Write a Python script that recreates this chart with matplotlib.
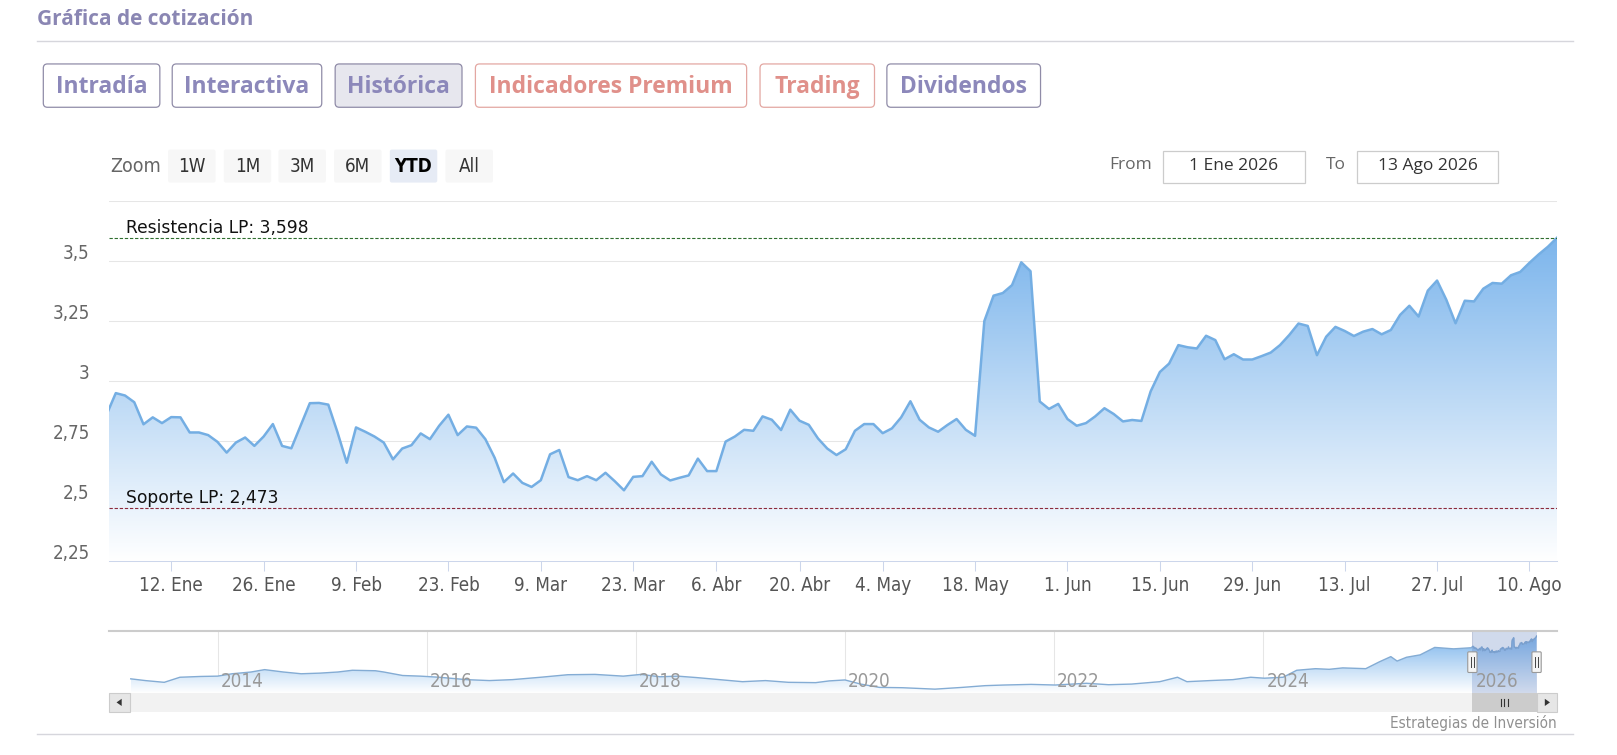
import numpy as np
import pandas as pd
import matplotlib
matplotlib.use('Agg')
import matplotlib.pyplot as plt
from matplotlib.patches import FancyBboxPatch, Rectangle, Polygon
from matplotlib.colors import to_rgb

# ---- data ----
prev_close = 2.86  # last close of 2025, only the stub into the left edge shows
prices = [
    2.950, 2.940, 2.912, 2.820, 2.849, 2.825, 2.850, 2.849, 2.786, 2.786,
    2.775, 2.747, 2.702, 2.744, 2.765, 2.730, 2.769, 2.821, 2.730, 2.720,
    2.814, 2.908, 2.909, 2.902, 2.786, 2.660, 2.807, 2.789, 2.769, 2.744,
    2.674, 2.719, 2.733, 2.782, 2.758, 2.814, 2.860, 2.775, 2.811, 2.806,
    2.758, 2.681, 2.579, 2.615, 2.576, 2.559, 2.587, 2.695, 2.713, 2.600,
    2.587, 2.604, 2.587, 2.618, 2.583, 2.545, 2.601, 2.604, 2.664, 2.611,
    2.586, 2.597, 2.607, 2.677, 2.625, 2.625, 2.748, 2.769, 2.797, 2.793,
    2.853, 2.839, 2.796, 2.881, 2.835, 2.818, 2.761, 2.719, 2.692, 2.716,
    2.793, 2.821, 2.821, 2.783, 2.803, 2.849, 2.916, 2.839, 2.807, 2.789,
    2.817, 2.842, 2.797, 2.772, 3.250, 3.356, 3.367, 3.400, 3.495, 3.458,
    2.915, 2.884, 2.905, 2.842, 2.814, 2.825, 2.853, 2.887, 2.863, 2.832,
    2.838, 2.834, 2.957, 3.038, 3.073, 3.150, 3.141, 3.136, 3.189, 3.171,
    3.091, 3.112, 3.090, 3.090, 3.104, 3.119, 3.150, 3.192, 3.240, 3.230,
    3.108, 3.185, 3.226, 3.209, 3.188, 3.206, 3.217, 3.195, 3.213, 3.276,
    3.314, 3.269, 3.377, 3.419, 3.339, 3.241, 3.335, 3.332, 3.385, 3.409,
    3.406, 3.441, 3.455, 3.493, 3.528, 3.560, 3.598,
]
holidays = ['2026-04-03', '2026-04-06', '2026-05-01']
tick_dates = ['2026-01-12', '2026-01-26', '2026-02-09', '2026-02-23', '2026-03-09',
              '2026-03-23', '2026-04-06', '2026-04-20', '2026-05-04', '2026-05-18',
              '2026-06-01', '2026-06-15', '2026-06-29', '2026-07-13', '2026-07-27',
              '2026-08-10']
tick_labels = ['12. Ene', '26. Ene', '9. Feb', '23. Feb', '9. Mar', '23. Mar', '6. Abr',
               '20. Abr', '4. May', '18. May', '1. Jun', '15. Jun', '29. Jun', '13. Jul',
               '27. Jul', '10. Ago']
y_ticks = [2.25, 2.5, 2.75, 3.0, 3.25, 3.5, 3.75]
y_labels = ['2,25', '2,5', '2,75', '3', '3,25', '3,5', '']
resistance = 3.598
support = 2.473

# navigator history (before 2026), rough samples
nav_years = [2013.17, 2013.31, 2013.49, 2013.64, 2013.84, 2014.00, 2014.14, 2014.32, 2014.45,
             2014.63, 2014.80, 2014.98, 2015.15, 2015.29, 2015.51, 2015.59, 2015.77, 2015.94,
             2016.12, 2016.38, 2016.60, 2016.82, 2017.09, 2017.35, 2017.61, 2017.88, 2018.05,
             2018.23, 2018.40, 2018.58, 2018.80, 2019.02, 2019.24, 2019.46, 2019.72, 2019.85,
             2020.00, 2020.15, 2020.33, 2020.55, 2020.86, 2021.12, 2021.34, 2021.52, 2021.78,
             2022.01, 2022.31, 2022.52, 2022.74, 2023.01, 2023.18, 2023.27, 2023.49, 2023.71,
             2023.88, 2024.01, 2024.19, 2024.32, 2024.50, 2024.63, 2024.76, 2024.98, 2025.11,
             2025.22, 2025.28, 2025.37, 2025.50, 2025.64, 2025.82, 2025.99]
nav_values = [0.90, 0.79, 0.68, 1.00, 1.05, 1.07, 1.22, 1.33, 1.48,
              1.33, 1.22, 1.26, 1.33, 1.44, 1.41, 1.33, 1.11, 1.07,
              1.00, 0.85, 0.79, 0.85, 1.00, 1.16, 1.18, 1.07, 1.18,
              1.03, 1.07, 0.98, 0.85, 0.72, 0.79, 0.68, 0.66, 0.77,
              0.83, 0.57, 0.36, 0.34, 0.25, 0.36, 0.47, 0.51, 0.55,
              0.51, 0.62, 0.53, 0.57, 0.72, 1.00, 0.72, 0.79, 0.85,
              1.00, 0.94, 1.00, 1.44, 1.54, 1.50, 1.59, 1.54, 1.97,
              2.30, 2.02, 2.26, 2.41, 2.88, 2.79, 2.86]
nav_year_ticks = [2014, 2016, 2018, 2020, 2022, 2024, 2026]

tabs = ['Intradía', 'Interactiva', 'Histórica', 'Indicadores Premium', 'Trading', 'Dividendos']
zoom_buttons = ['1W', '1M', '3M', '6M', 'YTD', 'All']
date_from = '1 Ene 2026'
date_to = '13 Ago 2026'

# ---- layout (page units: 1568 x 732 grid) ----
W, H = 1568, 732
K = 1617 / W  # screen px per page unit
NARROW = dict(family=['Liberation Sans Narrow', 'DejaVu Sans'], fontstretch='condensed')
UI = ['Open Sans', 'DejaVu Sans']


def frac(x0, y0, x1, y1):
    return [x0 / W, 1 - y1 / H, (x1 - x0) / W, (y1 - y0) / H]


def gradient_fill(axis, xs, ys, base, top_color):
    rgb = np.array(to_rgb(top_color))
    t = np.linspace(0, 1, 256)[:, None]
    img = (rgb * (1 - t) + t)[:, None, :]
    im = axis.imshow(img, extent=(xs[0], xs[-1], base, max(ys)), origin='upper',
                     aspect='auto', interpolation='bilinear', zorder=1)
    verts = [(xs[0], base)] + list(zip(xs, ys)) + [(xs[-1], base)]
    clip = Polygon(verts, closed=True, fc='none', ec='none', transform=axis.transData)
    axis.add_patch(clip)
    im.set_clip_path(clip)


fig = plt.figure(figsize=(16.17, 7.55), dpi=100)
fig.patch.set_facecolor('white')

# ---- main chart ----
dates = pd.bdate_range('2026-01-02', '2026-08-13')
dates = dates[~dates.isin(pd.to_datetime(holidays))]
n = len(prices)
xs = np.arange(-1, n)
ys = np.array([prev_close] + prices)

ax = fig.add_axes(frac(106, 195, 1510, 544))
gradient_fill(ax, xs, ys, 2.25, '#7cb5ec')
ax.plot(xs, ys, color='#74aee3', lw=1.8, zorder=3, solid_joinstyle='round')
ax.set_xlim(-0.7, n - 1)
ax.set_ylim(2.25, 3.75)

ax.set_yticks(y_ticks)
ax.grid(axis='y', color='#e6e6e6', lw=0.75, zorder=0)
ax.set_axisbelow(True)
ax.tick_params(axis='y', length=0, labelleft=False)
for v, lab in zip(y_ticks, y_labels):
    ax.annotate(lab, xy=(0, v), xycoords=('axes fraction', 'data'),
                xytext=(-19 * K, 2.5 * K), textcoords='offset pixels',
                ha='right', va='baseline', fontsize=13.5, color='#666666', **NARROW)

tick_idx = dates.searchsorted(pd.to_datetime(tick_dates))
ax.set_xticks(tick_idx)
ax.set_xticklabels(tick_labels, fontsize=13.5, color='#555555', **NARROW)
ax.tick_params(axis='x', length=10 * K * 0.72, width=0.75, color='#ccd6eb', pad=3)
for side in ['top', 'left', 'right']:
    ax.spines[side].set_visible(False)
ax.spines['bottom'].set_color('#ccd6eb')
ax.spines['bottom'].set_linewidth(0.75)
ax.spines['bottom'].set_zorder(4)

ax.axhline(resistance, color='#2f6e2f', lw=0.8, dashes=(3, 1.6), zorder=4)
ax.axhline(support, color='#8c2a3c', lw=0.8, dashes=(3, 1.6), zorder=4)
for name, val in [('Resistencia LP', resistance), ('Soporte LP', support)]:
    txt = f'{name}: {val:.3f}'.replace('.', ',')
    ax.annotate(txt, xy=(0, val), xycoords=('axes fraction', 'data'),
                xytext=(16 * K, 4 * K), textcoords='offset pixels',
                ha='left', va='baseline', fontsize=12.3, color='#111111',
                family='DejaVu Sans', zorder=5)

# ---- navigator ----
nav_x = nav_years + [2026 + (d.dayofyear - 1) / 365 for d in dates]
nav_y = nav_values + prices
nav = fig.add_axes(frac(106, 612, 1490, 672))
nav.patch.set_alpha(0)
gradient_fill(nav, nav_x, nav_y, 0.0, '#7cb5ec')
nav.plot(nav_x, nav_y, color='#84acd4', lw=1.0, zorder=3)
x_lo, x_hi = 2012.965, nav_x[-1]
nav.set_xlim(x_lo, x_hi)
nav.set_ylim(0.0, 3.9)
for yr in nav_year_ticks:
    nav.axvline(yr, color='#e6e6e6', lw=0.75, zorder=0)
    nav.annotate(str(yr), xy=(yr, 0), xycoords=('data', 'axes fraction'),
                 xytext=(3 * K, 6 * K), textcoords='offset pixels',
                 ha='left', va='baseline', fontsize=13.5, color='#999999', zorder=5, **NARROW)
nav.axvspan(2026.0, x_hi, color=(102 / 255, 133 / 255, 194 / 255), alpha=0.3, lw=0, zorder=4)
nav.axis('off')

# ---- page furniture (title, tabs, range selector, scrollbar) ----
page = fig.add_axes([0, 0, 1, 1], zorder=5)
page.set_xlim(0, W)
page.set_ylim(H, 0)
page.patch.set_alpha(0)
page.axis('off')

page.text(36, 19, 'Gráfica de cotización', fontsize=15, weight='bold',
          color='#8a86b3', family=UI, va='center', ha='left')
page.plot([36, 1525], [40, 40], color='#d6d6dc', lw=1)

tab_x = [(42, 155), (167, 312), (325, 448), (461, 724), (737, 848), (860, 1009)]
purple, salmon = '#8c88ba', '#e0908a'
for lab, (x0, x1) in zip(tabs, tab_x):
    warm = lab in ('Indicadores Premium', 'Trading')
    tc = salmon if warm else purple
    ec = '#e3a7a2' if warm else '#908ca8'
    fc = '#e7e7ee' if lab == 'Histórica' else 'white'
    page.add_patch(FancyBboxPatch((x0, 62), x1 - x0, 42, boxstyle='round,pad=0,rounding_size=4',
                                  fc=fc, ec=ec, lw=0.9))
    page.text((x0 + x1) / 2, 84, lab, fontsize=16.5, weight='bold', color=tc,
              family=UI, ha='center', va='center')

page.text(107, 161, 'Zoom', fontsize=14, color='#666666', ha='left', va='center', **NARROW)
zb_x = [163, 217, 270, 324, 378, 432]
for lab, x0 in zip(zoom_buttons, zb_x):
    sel = lab == 'YTD'
    page.add_patch(FancyBboxPatch((x0, 145), 46, 32, boxstyle='round,pad=0,rounding_size=2',
                                  fc='#e6ebf5' if sel else '#f7f7f7', ec='none'))
    page.text(x0 + 23, 161, lab, fontsize=13.5, color='#000000' if sel else '#333333',
              weight='bold' if sel else 'normal', ha='center', va='center', **NARROW)

for lab, val, lx, bx in [('From', date_from, 1117, 1128), ('To', date_to, 1305, 1316)]:
    page.text(lx, 160, lab, fontsize=12.5, color='#666666', family=UI, ha='right', va='center')
    page.add_patch(Rectangle((bx, 146), 137, 31, fc='white', ec='#cccccc', lw=0.9))
    page.text(bx + 68.5, 161, val, fontsize=12.5, color='#333333', family=UI,
              ha='center', va='center')

# navigator outline + handles
page.plot([106, 1510], [612, 612], color='#cccccc', lw=1.5)


def nav_px(year):
    return 106 + (year - x_lo) / (x_hi - x_lo) * (1490 - 106)


for hx in (nav_px(2026.0), nav_px(x_hi)):
    page.add_patch(FancyBboxPatch((hx - 4.5, 632), 9, 20, boxstyle='round,pad=0,rounding_size=1',
                                  fc='#f4f4f4', ec='#999999', lw=0.8))
    for dx in (-1.3, 1.3):
        page.plot([hx + dx, hx + dx], [637, 647], color='#444444', lw=0.7)

# scrollbar
page.add_patch(Rectangle((106, 672), 1404, 18, fc='#f2f2f2', ec='none'))
thumb0, thumb1 = nav_px(2026.0), nav_px(x_hi)
page.add_patch(Rectangle((thumb0, 672), thumb1 - thumb0, 18, fc='#cccccc', ec='none'))
mid = (thumb0 + thumb1) / 2
for dx in (-3, 0, 3):
    page.plot([mid + dx, mid + dx], [677.5, 684.5], color='#333333', lw=0.8)
for bx, pts in [(106, [(113, 681), (118, 677.5), (118, 684.5)]),
                (1490, [(1503, 681), (1498, 677.5), (1498, 684.5)])]:
    page.add_patch(Rectangle((bx, 672), 20, 18, fc='#e6e6e6', ec='#cccccc', lw=0.8))
    page.add_patch(Polygon(pts, closed=True, fc='#333333', ec='none'))

page.text(1510, 701, 'Estrategias de Inversión', fontsize=11, color='#909090',
          ha='right', va='center', **NARROW)
page.plot([36, 1525], [712, 712], color='#d6d6dc', lw=1)

fig.savefig('out.png', dpi=100, facecolor='white')
